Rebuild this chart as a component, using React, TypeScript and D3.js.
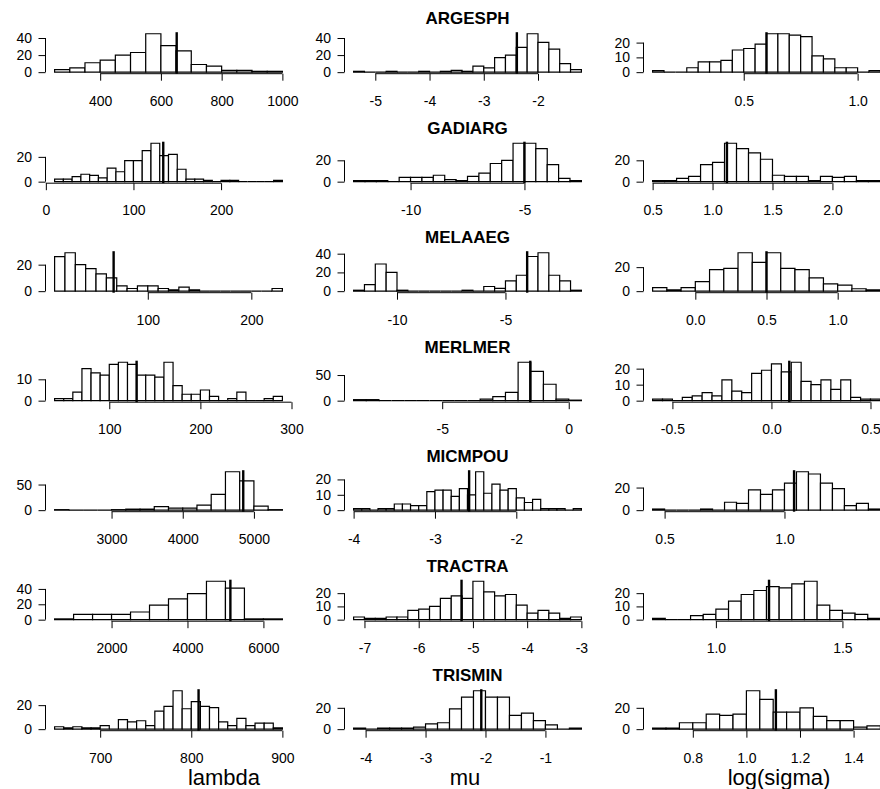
import React, { useEffect, useRef } from 'react';
import * as d3 from 'd3';

const species = ['ARGESPH', 'GADIARG', 'MELAAEG', 'MERLMER', 'MICMPOU', 'TRACTRA', 'TRISMIN'];
const paramLabels = ['lambda', 'mu', 'log(sigma)'];

// lambda: first break, bin width, counts per bin, true value, ticks
const lambdaStart = [250, 10, 10, 40, 2200, 500, 650];
const lambdaBin = [50, 10, 10, 10, 200, 500, 10];
const lambdaCounts = [
  [3, 5, 11, 14, 20, 23, 45, 31, 25, 9, 7, 2, 2, 1, 1],
  [2, 2, 4, 6, 5, 3, 11, 8, 17, 17, 25, 31, 21, 22, 10, 2, 2, 1, 0, 1, 1, 0, 0, 0, 0, 1],
  [26, 29, 20, 17, 13, 10, 4, 2, 4, 4, 2, 1, 3, 1, 0, 0, 0, 0, 0, 0, 0, 2],
  [1, 1, 4, 15, 13, 12, 17, 18, 17, 12, 12, 11, 18, 7, 3, 3, 5, 2, 0, 1, 4, 0, 0, 1, 2],
  [1, 0, 0, 0, 1, 2, 2, 7, 4, 4, 10, 31, 75, 57, 8, 1],
  [1, 7, 7, 7, 10, 19, 27, 34, 50, 41, 1, 1],
  [2, 1, 2, 1, 1, 3, 0, 8, 6, 7, 3, 15, 19, 32, 17, 23, 19, 18, 6, 3, 9, 3, 5, 5, 1],
];
const lambdaTrue = [652, 134, 67, 130, 4850, 5130, 808];
const lambdaXTicks = [[400, 600, 800, 1000], [0, 100, 200], [100, 200], [100, 200, 300], [3000, 4000, 5000], [2000, 4000, 6000], [700, 800, 900]];
const lambdaYTicks = [[0, 20, 40], [0, 20], [0, 20], [0, 10], [0, 50], [0, 20, 40], [0, 20]];

// mu
const muStart = [-5.4, -12.5, -12, -8.5, -4.0, -7.2, -4.2];
const muBin = [0.2, 0.5, 0.5, 0.5, 0.1, 0.2, 0.2];
const muCounts = [
  [1, 0, 0, 1, 0, 0, 1, 0, 1, 2, 1, 7, 5, 17, 20, 29, 45, 35, 27, 10, 3],
  [1, 1, 1, 0, 4, 4, 4, 6, 2, 1, 5, 8, 17, 20, 36, 36, 31, 16, 3, 1],
  [1, 7, 29, 20, 1, 0, 0, 0, 0, 0, 1, 0, 5, 3, 11, 17, 37, 41, 17, 11, 1],
  [2, 2, 0, 0, 0, 0, 0, 0, 0, 0, 3, 8, 16, 75, 57, 32, 3, 1],
  [1, 1, 0, 1, 1, 4, 4, 3, 3, 12, 13, 13, 9, 14, 10, 25, 11, 17, 13, 14, 8, 5, 7, 1, 1, 1, 0, 1],
  [2, 1, 1, 2, 2, 7, 8, 10, 16, 18, 16, 29, 21, 18, 19, 11, 5, 7, 5, 1, 2],
  [1, 0, 1, 1, 1, 2, 5, 6, 19, 30, 36, 30, 30, 13, 15, 8, 4, 0, 1],
];
const muTrue = [-2.39, -5.0, -4.0, -1.52, -2.58, -5.21, -2.07];
const muXTicks = [[-5, -4, -3, -2], [-10, -5], [-10, -5], [-5, 0], [-4, -3, -2], [-7, -6, -5, -4, -3], [-4, -3, -2, -1]];
const muYTicks = [[0, 20, 40], [0, 20], [0, 20, 40], [0, 50], [0, 10, 20], [0, 10, 20], [0, 20]];

// log(sigma)
const sigStart = [0.1, 0.5, -0.3, -0.6, 0.45, 0.75, 0.65];
const sigBin = [0.05, 0.1, 0.1, 0.05, 0.05, 0.05, 0.05];
const sigCounts = [
  [1, 0, 0, 3, 7, 7, 8, 15, 16, 19, 26, 26, 25, 24, 11, 9, 3, 3, 0, 1],
  [1, 1, 3, 5, 16, 18, 36, 31, 27, 21, 6, 5, 5, 1, 5, 4, 5, 1, 1],
  [3, 1, 3, 8, 18, 19, 32, 24, 32, 19, 18, 11, 6, 5, 2, 1],
  [1, 1, 0, 2, 3, 5, 3, 13, 6, 5, 17, 19, 23, 18, 24, 12, 10, 13, 7, 13, 2, 1, 1],
  [1, 0, 0, 0, 1, 0, 7, 6, 18, 14, 18, 24, 34, 32, 24, 19, 4, 6, 1],
  [1, 0, 0, 3, 4, 8, 14, 19, 22, 25, 24, 27, 29, 11, 7, 5, 4, 1],
  [1, 1, 6, 6, 14, 13, 14, 36, 28, 16, 16, 20, 12, 8, 8, 2, 3],
];
const sigTrue = [0.6, 1.12, 0.5, 0.09, 1.04, 1.21, 1.11];
const sigXTicks = [[0.5, 1.0], [0.5, 1.0, 1.5, 2.0], [0.0, 0.5, 1.0], [-0.5, 0.0, 0.5], [0.5, 1.0], [1.0, 1.5], [0.8, 1.0, 1.2, 1.4]];
const sigYTicks = [[0, 10, 20], [0, 20], [0, 20], [0, 10, 20], [0, 20], [0, 10, 20], [0, 20]];

const starts = [lambdaStart, muStart, sigStart];
const bins = [lambdaBin, muBin, sigBin];
const counts = [lambdaCounts, muCounts, sigCounts];
const truths = [lambdaTrue, muTrue, sigTrue];
const xTicks = [lambdaXTicks, muXTicks, sigXTicks];
const yTicks = [lambdaYTicks, muYTicks, sigYTicks];

const W = 880;
const H = 789;
const rowPitch = 109.5;
const colPitch = 299;
const plotLeft = 45.5;
const plotW = 246;
const plotTop = 32.2;
const plotBottom = 73.7;
const font = '"Liberation Sans", Arial, Helvetica, sans-serif';
const labelX = [224, 465, 779];

const fmt = (ticks: number[]) => {
  const step = ticks.length > 1 ? Math.abs(ticks[1] - ticks[0]) : 1;
  const dec = step < 1 ? 1 : 0;
  return (v: number) => v.toFixed(dec);
};

const App = () => {
  const ref = useRef<SVGSVGElement | null>(null);

  useEffect(() => {
    const svg = d3.select(ref.current);
    svg.selectAll('*').remove();
    svg.append('rect').attr('width', W).attr('height', H).attr('fill', 'white');

    for (let r = 0; r < species.length; r++) {
      const top = r * rowPitch;
      for (let c = 0; c < 3; c++) {
        const a = starts[c][r];
        const bw = bins[c][r];
        const cnt = counts[c][r];
        const b = a + cnt.length * bw;
        const pad = 0.04 * (b - a);
        const left = plotLeft + c * colPitch;
        const x = d3.scaleLinear().domain([a - pad, b + pad]).range([left, left + plotW]);
        const maxC = d3.max(cnt) as number;
        const y = d3.scaleLinear()
          .domain([-0.04 * maxC, 1.04 * maxC])
          .range([top + plotBottom, top + plotTop]);

        const g = svg.append('g');

        // bars as closed paths so empty bins still show as a line on zero
        g.selectAll('path.bar')
          .data(cnt)
          .join('path')
          .attr('class', 'bar')
          .attr('d', (d, i) => {
            const x0 = x(a + i * bw);
            const x1 = x(a + (i + 1) * bw);
            return `M${x0},${y(0)}V${y(d)}H${x1}V${y(0)}Z`;
          })
          .attr('fill', 'white')
          .attr('stroke', 'black')
          .attr('stroke-width', 1.2);

        g.append('line')
          .attr('x1', x(truths[c][r]))
          .attr('x2', x(truths[c][r]))
          .attr('y1', top + plotTop)
          .attr('y2', top + plotBottom)
          .attr('stroke', 'black')
          .attr('stroke-width', 2.4);

        // x axis, line only between first and last tick like R
        const xt = xTicks[c][r];
        const xAxis = g.append('g')
          .attr('transform', `translate(0, ${top + plotBottom})`)
          .call(d3.axisBottom(x).tickValues(xt).tickSize(7).tickPadding(15.3).tickFormat((v) => fmt(xt)(+v)));
        xAxis.select('.domain').remove();
        xAxis.append('line')
          .attr('x1', x(xt[0])).attr('x2', x(xt[xt.length - 1]))
          .attr('stroke', 'black');
        xAxis.attr('font-size', 14).attr('font-family', font);
        xAxis.selectAll('text').attr('fill', 'black');

        const yt = yTicks[c][r];
        const yAxis = g.append('g')
          .attr('transform', `translate(${left}, 0)`)
          .call(d3.axisLeft(y).tickValues(yt).tickSize(7).tickPadding(6.5).tickFormat((v) => String(+v)));
        yAxis.select('.domain').remove();
        yAxis.append('line')
          .attr('y1', y(yt[0])).attr('y2', y(yt[yt.length - 1]))
          .attr('stroke', 'black');
        yAxis.attr('font-size', 14).attr('font-family', font);
        yAxis.selectAll('text').attr('fill', 'black');
      }

      svg.append('text')
        .attr('x', plotLeft + colPitch + plotW / 2)
        .attr('y', top + 18.3)
        .attr('dy', '0.35em')
        .attr('text-anchor', 'middle')
        .style('font-family', font)
        .style('font-weight', 'bold')
        .style('font-size', '17px')
        .text(species[r]);
    }

    svg.selectAll('text.plab')
      .data(paramLabels)
      .join('text')
      .attr('class', 'plab')
      .attr('x', (d, i) => labelX[i])
      .attr('y', 777)
      .attr('dy', '0.35em')
      .attr('text-anchor', 'middle')
      .style('font-family', font)
      .style('font-size', '22px')
      .text((d) => d);
  }, []);

  return (
    <div style={{ position: 'absolute', left: 0, top: 0, width: W, height: H, overflow: 'hidden' }}>
      <svg ref={ref} width={W} height={H} style={{ display: 'block' }} />
    </div>
  );
};

export default App;
